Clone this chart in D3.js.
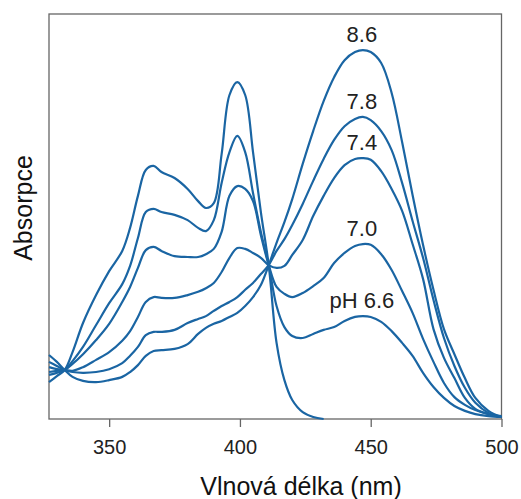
<!DOCTYPE html>
<html>
<head>
<meta charset="utf-8">
<script src="https://cdn.jsdelivr.net/npm/d3@7"></script>
<style>
body { margin: 0; background: #fff; }
text { font-family: "Liberation Sans", Arial, sans-serif; }
</style>
</head>
<body>
<div id="chart"></div>
<script>
// wavelength grid (nm) shared by all spectra
var wavelengths = [327,330,333,336,340,345,350,355,358,361,364,367,370,375,380,384,387,390,393,396,399,402,405,408,
	411,414,417,420,424,428,432,436,440,444,447,450,454,458,462,466,470,474,478,482,486,490,495,500];

// absorbance; the acid form has no band above ~433 nm
var absAcid = [0.091,0.106,0.121,0.165,0.237,0.306,0.365,0.415,0.472,0.551,0.615,0.625,0.610,0.595,0.568,0.538,0.521,0.533,0.654,0.800,0.832,0.800,0.659,0.511,
	0.380,0.188,0.096,0.047,0.017,0.005,0.000,null,null,null,null,null,null,null,null,null,null,null,null,null,null,null,null,null];
var abs66 = [0.109,0.114,0.121,0.143,0.178,0.232,0.286,0.333,0.378,0.447,0.511,0.519,0.511,0.504,0.491,0.472,0.464,0.491,0.583,0.659,0.699,0.659,0.558,0.462,
	0.380,0.279,0.227,0.205,0.200,0.210,0.220,0.227,0.242,0.252,0.254,0.252,0.240,0.217,0.188,0.156,0.114,0.079,0.052,0.032,0.020,0.012,0.007,0.005];
var abs70 = [0.116,0.119,0.121,0.136,0.160,0.195,0.235,0.289,0.326,0.373,0.417,0.425,0.415,0.402,0.400,0.400,0.407,0.420,0.462,0.551,0.575,0.568,0.538,0.454,
	0.380,0.326,0.309,0.301,0.311,0.328,0.348,0.385,0.410,0.427,0.432,0.430,0.407,0.368,0.316,0.262,0.198,0.141,0.089,0.054,0.035,0.022,0.012,0.007];
var abs74 = [0.128,0.123,0.121,0.119,0.128,0.146,0.165,0.193,0.217,0.252,0.289,0.301,0.299,0.299,0.306,0.314,0.323,0.336,0.363,0.398,0.422,0.420,0.410,0.398,
	0.380,0.373,0.378,0.405,0.442,0.501,0.551,0.595,0.627,0.642,0.644,0.640,0.612,0.568,0.514,0.432,0.346,0.222,0.151,0.101,0.052,0.025,0.012,0.005];
var abs78 = [0.141,0.131,0.121,0.116,0.114,0.116,0.123,0.138,0.156,0.178,0.207,0.215,0.215,0.220,0.237,0.247,0.254,0.267,0.279,0.289,0.301,0.319,0.336,0.358,
	0.380,0.415,0.444,0.479,0.531,0.588,0.642,0.689,0.723,0.741,0.746,0.738,0.711,0.664,0.583,0.489,0.398,0.294,0.200,0.131,0.077,0.040,0.015,0.005];
var abs86 = [0.158,0.141,0.121,0.104,0.094,0.091,0.096,0.104,0.116,0.133,0.156,0.168,0.170,0.173,0.185,0.210,0.225,0.235,0.242,0.252,0.262,0.279,0.301,0.331,
	0.380,0.435,0.486,0.543,0.630,0.711,0.785,0.844,0.886,0.906,0.911,0.906,0.879,0.805,0.684,0.553,0.430,0.319,0.222,0.160,0.101,0.052,0.020,0.005];

var seriesNames = ["", "pH 6.6", "7.0", "7.4", "7.8", "8.6"];
var seriesValues = [absAcid, abs66, abs70, abs74, abs78, abs86];
var tickValues = [350, 400, 450, 500];
var labelAt = 447; // labels sit above the 447 nm band

var width = 521;
var height = 499;
var margin = {top: 14, right: 19.5, bottom: 80, left: 49};

var svg = d3.select("#chart")
	.append("svg")
	.attr("width", width)
	.attr("height", height);

var x = d3.scaleLinear()
	.domain([327, 500])
	.range([margin.left, width - margin.right]);
var y = d3.scaleLinear()
	.domain([0, 1])
	.range([height - margin.bottom, margin.top]);

// frame
svg.append("rect")
	.attr("x", margin.left)
	.attr("y", margin.top)
	.attr("width", width - margin.left - margin.right)
	.attr("height", height - margin.top - margin.bottom)
	.style("fill", "none")
	.style("stroke", "#666")
	.style("stroke-width", 1.3);

// x axis
var xAxis = svg.append("g")
	.attr("transform", "translate(0," + (height - margin.bottom) + ")")
	.call(d3.axisBottom(x).tickValues(tickValues).tickSize(8).tickSizeOuter(0).tickPadding(13));
xAxis.select(".domain").remove();
xAxis.selectAll(".tick line").style("stroke", "#666").style("stroke-width", 1.3);
xAxis.selectAll(".tick text")
	.style("font-size", "20px")
	.style("fill", "#222")
	.style("font-family", "'Liberation Sans', Arial, sans-serif");

// spectra
var line = d3.line()
	.defined(function(d) { return d[1] != null; })
	.x(function(d) { return x(d[0]); })
	.y(function(d) { return y(d[1]); })
	.curve(d3.curveCatmullRom.alpha(0.5));

var series = seriesValues.map(function(vals, i) {
	return {
		name: seriesNames[i],
		points: wavelengths.map(function(w, j) { return [w, vals[j]]; })
	};
});

svg.selectAll(".spectrum")
	.data(series)
	.enter().append("path")
	.attr("class", "spectrum")
	.attr("d", function(d) { return line(d.points); })
	.style("fill", "none")
	.style("stroke", "#1a65a3")
	.style("stroke-width", 2.2)
	.style("stroke-linejoin", "round");

// pH labels
var labelIndex = wavelengths.indexOf(labelAt);
svg.selectAll(".plabel")
	.data(series.filter(function(d) { return d.name !== ""; }))
	.enter().append("text")
	.attr("class", "plabel")
	.attr("x", x(labelAt) - 1)
	.attr("y", function(d) { return y(d.points[labelIndex][1]) - 8; })
	.attr("text-anchor", "middle")
	.style("font-size", "22px")
	.style("fill", "#222")
	.text(function(d) { return d.name; });

// axis titles
svg.append("text")
	.attr("x", 301)
	.attr("y", 495)
	.attr("text-anchor", "middle")
	.style("font-size", "25px")
	.style("fill", "#111")
	.text("Vlnová délka (nm)");

svg.append("text")
	.attr("transform", "translate(32,208) rotate(-90)")
	.attr("text-anchor", "middle")
	.style("font-size", "25px")
	.style("fill", "#111")
	.text("Absorpce");
</script>
</body>
</html>
